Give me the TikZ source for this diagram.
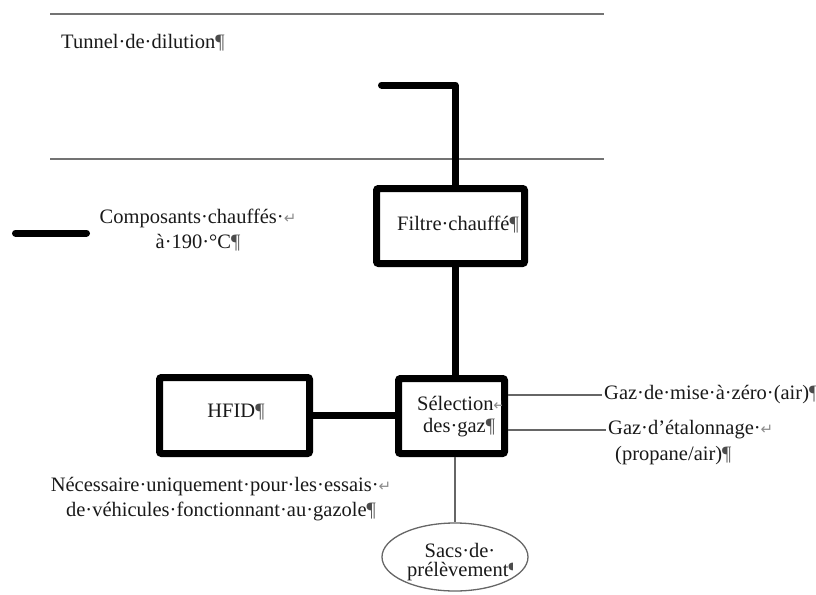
\documentclass[tikz,border=0pt]{standalone}
\usepackage{fontspec}
\setmainfont{Liberation Serif}
\newfontfamily\marksfont{DejaVu Sans}
\usetikzlibrary{shapes.geometric}
% Word-style formatting marks
\newcommand\brk{{\marksfont\fontsize{15}{15}\selectfont\color{black!45}↵}}
\newcommand\pil{{\color{black!70}¶}}

\begin{document}
\begin{tikzpicture}[x=1pt,y=-1pt,
  every node/.style={font=\fontsize{20.5}{25}\selectfont, inner sep=0pt, text=black!90},
  pipe/.style={line width=7pt, line cap=round, line join=round},
  joint/.style={line width=7pt, line cap=butt},
  thinline/.style={draw=black!60, line width=1.4pt},
  rule/.style={draw=black!55, line width=1.6pt},
  heated/.style={draw, line width=7pt, rounded corners=2pt},
  label/.style={inner xsep=2pt},
]
\useasboundingbox (0,0) rectangle (816,594);

% dilution tunnel
\coordinate (tunA) at (50,14);  \coordinate (tunB) at (604,14);
\coordinate (tunC) at (50,159); \coordinate (tunD) at (604,159);
\draw[rule] (tunA) -- (tunB);
\draw[rule] (tunC) -- (tunD);
\node[anchor=west] (tunnel) at (61,43) {Tunnel·de·dilution\pil};

% heated components
\node[heated, minimum width=148pt, minimum height=75pt] (filtre) at (450.5,226) {};
\node (filtrelbl) at (458,225) {Filtre·chauffé\pil};

\node[heated, minimum width=150pt, minimum height=76pt] (hfid) at (234.5,415.5) {};
\node (hfidlbl) at (236,412) {HFID\pil};

\node[heated, minimum width=106pt, minimum height=75pt] (selec) at (451.5,416) {};
\begin{scope}
  \clip (402,382) rectangle (501,450);
  \node[anchor=west] (sel1) at (417,403) {Sélection\brk};
  \node[anchor=west] (sel2) at (423,428) {des·gaz\pil};
\end{scope}

% sample bags
\node[ellipse, draw=black!60, line width=1.3pt, minimum width=146pt, minimum height=68pt] (sacs) at (455,557) {};
\begin{scope}
  \clip (380,520) rectangle (512,594);
  \node (sacs1) at (460,550) {Sacs·de·};
  \node[anchor=west] (sacs2) at (407,572) {prélèvement\pil};
\end{scope}

% heated lines
\coordinate (inlet) at (381.5,85);
\coordinate (bend) at (455,85);
\draw[pipe] (inlet) -- (bend) -- ([xshift=4.5pt]filtre.north);
\draw[joint] ([xshift=4.5pt]filtre.south) -- ([xshift=3.5pt]selec.north);
\draw[joint] (hfid.east) -- (hfid.east -| selec.west);

% gas inputs
\node[label, anchor=west] (zero) at (602,395) {Gaz·de·mise·à·zéro·(air)\pil};
\node[label, anchor=west] (etal) at (606,430) {Gaz·d’étalonnage·\brk};
\node[label, anchor=west] (etal2) at (613,456) {(propane/air)\pil};
\draw[thinline] (zero.west -| selec.east) -- (zero.west);
\draw[thinline] (etal.west -| selec.east) -- (etal.west);
\draw[thinline] (selec.south -| sacs.north) -- (sacs.north);

% note
\node[align=center] (note) at (221,499.5) {Nécessaire·uniquement·pour·les·essais·\brk\\de·véhicules·fonctionnant·au·gazole\pil};

% legend
\coordinate (legA) at (15.5,233);
\coordinate (legB) at (86.5,233);
\draw[pipe] (legA) -- (legB);
\node[align=center] (legtxt) at (198,230.5) {Composants·chauffés·\brk\\à·190·°C\pil};
\end{tikzpicture}
\end{document}
